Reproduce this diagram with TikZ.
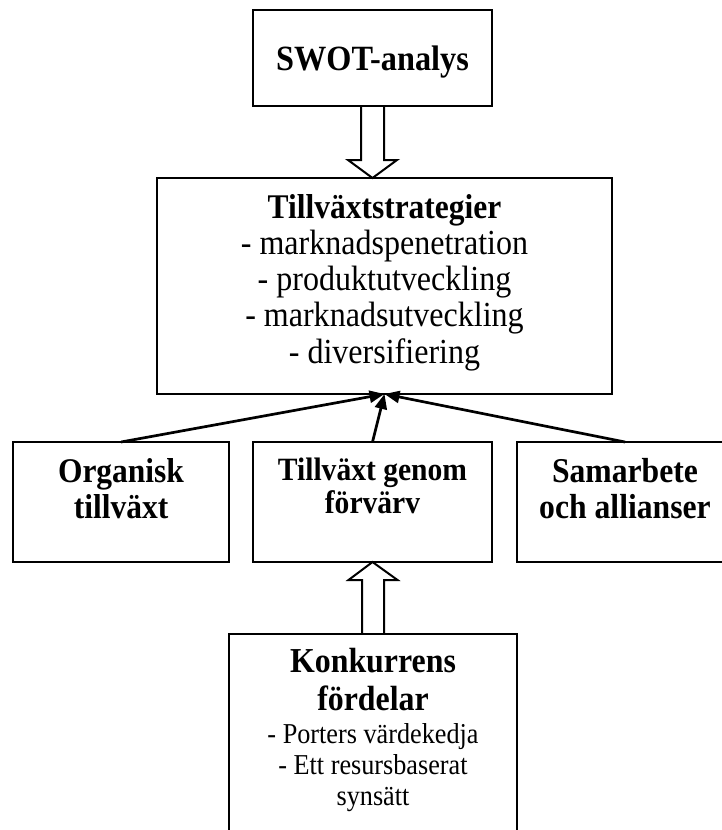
\documentclass[tikz,border=0pt]{standalone}
\usepackage{fontspec}
\setmainfont{Liberation Serif}[FakeStretch=0.91]
\usetikzlibrary{calc,arrows.meta}
\newcommand{\fsz}[2]{\fontsize{#1}{#2}\selectfont}
\begin{document}
\begin{tikzpicture}[x=1pt,y=-1pt,
  box/.style={draw,line width=2pt,rectangle,inner sep=0pt,outer sep=0pt},
  conn/.style={line width=2.7pt,-{Triangle[length=15pt,width=12pt]}},
  hollow/.style={line width=2pt,line join=miter},
  txt/.style={anchor=base,inner sep=0pt,outer sep=0pt,align=center}]
\useasboundingbox (0,0) rectangle (722,830);
\clip (0,0) rectangle (722,830);

% boxes
\node[box,minimum width=239pt,minimum height=96pt] (swot) at (372.5,58) {};
\node[box,minimum width=455pt,minimum height=216pt] (main) at (384.5,286) {};
\node[box,minimum width=216pt,minimum height=120pt] (org) at (121,502) {};
\node[box,minimum width=239pt,minimum height=120pt] (mid) at (372.5,502) {};
\node[box,minimum width=216pt,minimum height=120pt] (sam) at (625,502) {};
\node[box,minimum width=288pt,minimum height=206pt] (kf) at (373,737) {};

% texts
\node[txt] (swotT) at (372.5,70) {\fsz{35.5}{36}\bfseries SWOT-analys};
\node[txt] (mainT) at (384.5,218) {\fsz{35.2}{36.25}\begin{tabular}[t]{@{}c@{}}{\fsz{34.6}{36.25}\bfseries Tillväxtstrategier}\\- marknadspenetration\\- produktutveckling\\- marknadsutveckling\\- diversifiering\end{tabular}};
\node[txt] (orgT) at (121,482) {\fsz{34.6}{36}\bfseries\begin{tabular}[t]{@{}c@{}}Organisk\\tillväxt\end{tabular}};
\node[txt] (midT) at (372.5,480) {\fsz{32.5}{33}\bfseries\begin{tabular}[t]{@{}c@{}}Tillväxt genom\\förvärv\end{tabular}};
\node[txt] (samT) at (625,482) {\fsz{34.8}{36}\bfseries\begin{tabular}[t]{@{}c@{}}Samarbete\\och allianser\end{tabular}};
\node[txt] (kfT) at (373,672) {\fsz{28.8}{31}\begin{tabular}[t]{@{}c@{}}{\fsz{35}{31}\bfseries Konkurrens}\\[5pt]{\fsz{35}{31}\bfseries fördelar}\\[2pt]- Porters värdekedja\\- Ett resursbaserat\\synsätt\end{tabular}};

% hollow arrows
\draw[hollow] ($(swot.south)+(-11.5,0)$) -- ++(0,54) -- ++(-13,0) -- (swot.south |- main.north) -- ($(swot.south)+(24.5,54)$) -- ++(-13,0) -- ($(swot.south)+(11.5,0)$);
\draw[hollow] ($(kf.north)+(-11,0)$) -- ++(0,-54) -- ++(-13.5,0) -- (mid.south) -- ($(kf.north)+(24.5,-54)$) -- ++(-13.5,0) -- ($(kf.north)+(11,0)$);

% connectors
\draw[conn] (org.north) -- (main.south);
\draw[conn] (mid.north) -- (main.south);
\draw[conn] (sam.north) -- (main.south);
\end{tikzpicture}
\end{document}
